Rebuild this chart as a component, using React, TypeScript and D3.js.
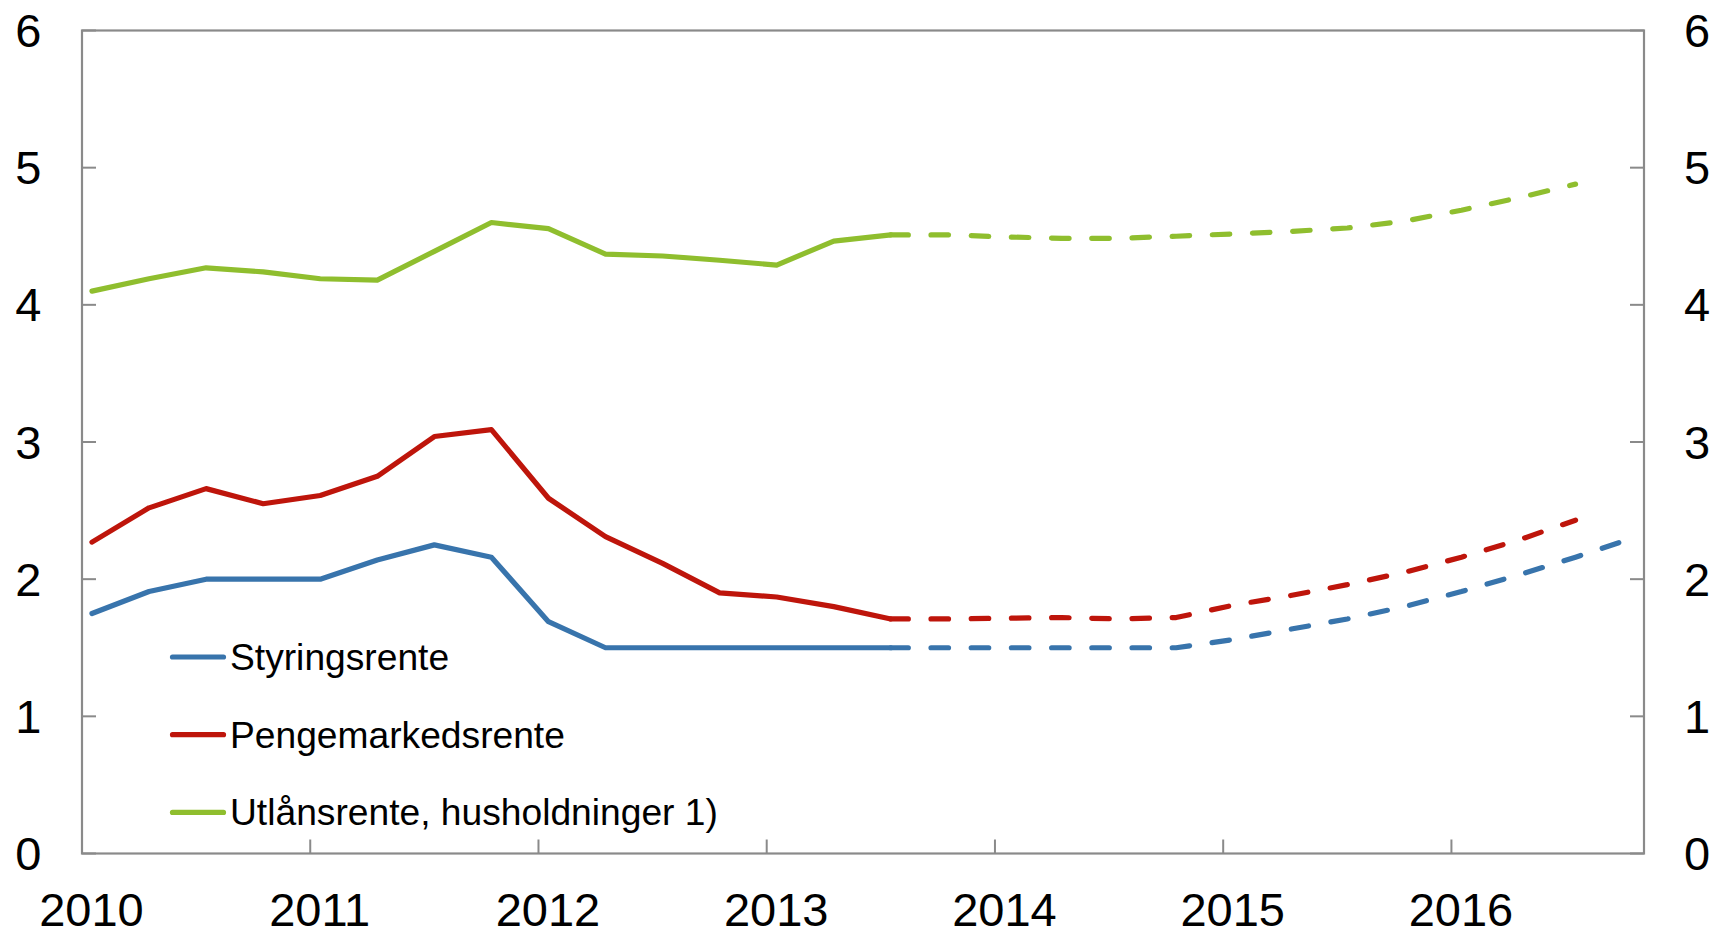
import React from "react";
import * as d3 from "d3";

// Quarterly observations 2010K1 - 2013K3 (actual) and forecasts to 2016K4
const quarters: string[] = [
  "2010K1","2010K2","2010K3","2010K4",
  "2011K1","2011K2","2011K3","2011K4",
  "2012K1","2012K2","2012K3","2012K4",
  "2013K1","2013K2","2013K3","2013K4",
  "2014K1","2014K2","2014K3","2014K4",
  "2015K1","2015K2","2015K3","2015K4",
  "2016K1","2016K2","2016K3","2016K4",
];
const lastActualIndex = 14;

const styringsrente: (number | null)[] = [
  1.75, 1.91, 2.0, 2.0, 2.0, 2.14, 2.25, 2.16, 1.69, 1.5, 1.5, 1.5, 1.5, 1.5, 1.5,
  1.5, 1.5, 1.5, 1.5, 1.5, 1.56, 1.635, 1.71, 1.80, 1.91, 2.03, 2.16, 2.30,
];
const pengemarkedsrente: (number | null)[] = [
  2.27, 2.52, 2.66, 2.55, 2.61, 2.75, 3.04, 3.09, 2.59, 2.31, 2.115, 1.90, 1.87, 1.80, 1.71,
  1.71, 1.715, 1.72, 1.71, 1.72, 1.81, 1.88, 1.96, 2.05, 2.16, 2.285, 2.43, null,
];
const utlansrente: (number | null)[] = [
  4.10, 4.19, 4.27, 4.24, 4.19, 4.18, 4.39, 4.60, 4.555, 4.37, 4.356, 4.325, 4.29, 4.465, 4.51,
  4.51, 4.495, 4.485, 4.485, 4.50, 4.517, 4.535, 4.56, 4.61, 4.69, 4.78, 4.88, null,
];

const yTicks: number[] = [0, 1, 2, 3, 4, 5, 6];
const years: string[] = ["2010", "2011", "2012", "2013", "2014", "2015", "2016"];

const seriesNames: string[] = ["Styringsrente", "Pengemarkedsrente", "Utlånsrente, husholdninger 1)"];
const seriesColors: string[] = ["#3874ac", "#be150b", "#8fbe2e"];
const seriesValues = [styringsrente, pengemarkedsrente, utlansrente];

const W = 1716;
const H = 932;
const left = 82;
const right = 1644;
const top = 30.5;
const bottom = 853.5;
const axisColor = "#8a8a8a";
const font = "'Liberation Sans', Arial, sans-serif";

export default function App() {
  const x = d3.scaleLinear().domain([-0.175, 27.2]).range([left, right]);
  const y = d3.scaleLinear().domain([0, 6]).range([bottom, top]);

  const line = d3
    .line<[number, number | null]>()
    .defined((d) => d[1] !== null)
    .x((d) => x(d[0]))
    .y((d) => y(d[1] as number));

  const drawOrder = [2, 1, 0];
  const lw = 5.2;

  return (
    <svg
      width={W}
      height={H}
      style={{ position: "absolute", left: 0, top: 0, background: "#fff" }}
      fontFamily={font}
    >
      <rect x={0} y={0} width={W} height={H} fill="#fff" />
      {/* frame */}
      <rect x={left} y={top} width={right - left} height={bottom - top} fill="none" stroke={axisColor} strokeWidth={2.2} />
      {/* y ticks */}
      {yTicks.map((t) => (
        <g key={"yt" + t}>
          <line x1={left} x2={left + 14} y1={y(t)} y2={y(t)} stroke={axisColor} strokeWidth={2} />
          <line x1={right - 14} x2={right} y1={y(t)} y2={y(t)} stroke={axisColor} strokeWidth={2} />
          <text x={41.5} y={y(t) + 16.5} textAnchor="end" fontSize={47} fill="#000">
            {t}
          </text>
          <text x={1684} y={y(t) + 16.5} textAnchor="start" fontSize={47} fill="#000">
            {t}
          </text>
        </g>
      ))}
      {/* x ticks */}
      {years.map((yr, k) => {
        const tx = x(4 * k - 0.175);
        return (
          <g key={"xt" + yr}>
            {k > 0 && <line x1={tx} x2={tx} y1={bottom} y2={bottom - 14} stroke={axisColor} strokeWidth={2} />}
            <text x={x(4 * k) - 0.5} y={925.5} textAnchor="middle" fontSize={47} fill="#000">
              {yr}
            </text>
          </g>
        );
      })}
      {/* series */}
      {drawOrder.map((s) => {
        const vals = seriesValues[s];
        const pts: [number, number | null][] = quarters.map((_, i) => [i, vals[i]]);
        const actual = pts.slice(0, lastActualIndex + 1);
        const forecast = pts.slice(lastActualIndex);
        return (
          <g key={"s" + s}>
            <path
              d={line(actual) || ""}
              fill="none"
              stroke={seriesColors[s]}
              strokeWidth={lw}
              strokeLinejoin="round"
              strokeLinecap="round"
            />
            <path
              d={line(forecast) || ""}
              fill="none"
              stroke={seriesColors[s]}
              strokeWidth={lw}
              strokeLinejoin="round"
              strokeLinecap="round"
              strokeDasharray="17.5 22.7"
            />
          </g>
        );
      })}
      {/* legend */}
      {seriesNames.map((name, k) => {
        const ly = 657 + k * 77.7;
        return (
          <g key={"lg" + k}>
            <line x1={172.5} x2={223.5} y1={ly} y2={ly} stroke={seriesColors[k]} strokeWidth={lw} strokeLinecap="round" />
            <text x={230} y={ly + 13} fontSize={37.2} fill="#000">
              {name}
            </text>
          </g>
        );
      })}
    </svg>
  );
}
